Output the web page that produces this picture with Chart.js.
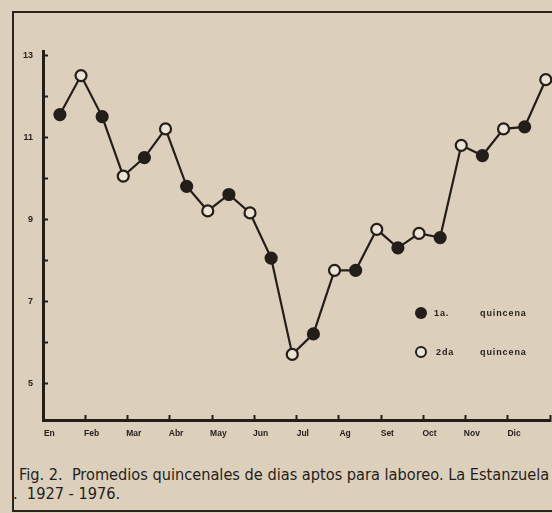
<!DOCTYPE html>
<html>
<head>
<meta charset="utf-8">
<script src="https://cdn.jsdelivr.net/npm/chart.js@4/dist/chart.umd.min.js"></script>
<style>
  html, body { margin: 0; padding: 0; background: #dccfbc; }
  #wrap { position: relative; width: 552px; height: 513px; overflow: hidden; background: #dccfbc;
          font-family: 'Liberation Sans', Arial, sans-serif; color: #241e1a; }
  #frame { position: absolute; left: 12px; top: 11px; width: 560px; height: 497px;
           border: 2px solid #2a2320; border-right: none; }
  #chartbox { position: absolute; left: 0; top: 0; width: 552px; height: 460px; }
  .dot { position: absolute; width: 12px; height: 12px; border-radius: 50%; box-sizing: border-box; }
  .dot.full { background: #241e1a; }
  .dot.open { background: #ece3d5; border: 2.5px solid #241e1a; }
  .lt { position: absolute; font-size: 9px; font-weight: bold; line-height: 10px; letter-spacing: .9px; }
  .cap { position: absolute; font-family: 'Liberation Sans Narrow', 'DejaVu Sans Condensed', sans-serif;
         font-size: 16.2px; line-height: 19px; white-space: nowrap; }
</style>
</head>
<body>
<div id="wrap">
  <div id="frame"></div>
  <div id="chartbox"><canvas id="chart-days"></canvas></div>

  <div class="dot full" style="left:415px; top:307px;"></div>
  <div class="lt" style="left:434px; top:308px;">1a.</div>
  <div class="lt" style="left:480px; top:308px;">quincena</div>
  <div class="dot open" style="left:415px; top:346px;"></div>
  <div class="lt" style="left:436px; top:347px;">2da</div>
  <div class="lt" style="left:480px; top:347px;">quincena</div>

  <div class="cap" style="left:19px; top:465px;">Fig. 2.&nbsp; Promedios quincenales de dias aptos para laboreo. La Estanzuela</div>
  <div class="cap" style="left:13px; top:484px;">.&nbsp; 1927 - 1976.</div>
</div>

<script>
// Promedio de días aptos para laboreo por quincena (1a y 2da de cada mes)
const MONTHS = ['En', 'Feb', 'Mar', 'Abr', 'May', 'Jun', 'Jul', 'Ag', 'Set', 'Oct', 'Nov', 'Dic'];
const DAYS = [
  11.55, 12.5,   // En
  11.5, 10.05,   // Feb
  10.5, 11.2,    // Mar
  9.8, 9.2,      // Abr
  9.6, 9.15,     // May
  8.05, 5.7,     // Jun
  6.2, 7.75,     // Jul
  7.75, 8.75,    // Ag
  8.3, 8.65,     // Set
  8.55, 10.8,    // Oct
  10.55, 11.2,   // Nov
  11.25, 12.4,   // Dic
];
const Y_TICKS = [5, 6, 7, 8, 9, 10, 11, 12, 13];
const Y_LABELS = [5, 7, 9, 11, 13];

const INK = '#241e1a';
const PAPER = '#ece3d5';
const POINT_SHIFT = 0.8;   // posición de cada quincena dentro de su medio mes
const LABEL_SHIFT = 0.3;   // etiquetas de mes algo corridas a la izquierda, como en el original

const points = DAYS.map((v, i) => ({ x: i + POINT_SHIFT, y: v }));
const isBoundary = v => Math.abs(v / 2 - Math.round(v / 2)) < 1e-6;

new Chart(document.getElementById('chart-days'), {
  type: 'line',
  data: {
    datasets: [{
      data: points,
      borderColor: INK,
      borderWidth: 2.2,
      tension: 0,
      clip: false,
      pointRadius: 5.5,
      pointHoverRadius: 5.5,
      pointBorderWidth: 2.2,
      pointBorderColor: INK,
      pointBackgroundColor: ctx => (ctx.dataIndex % 2 === 0 ? INK : PAPER),
    }],
  },
  options: {
    responsive: true,
    maintainAspectRatio: false,
    animation: false,
    events: [],
    layout: { autoPadding: false, padding: { top: 51, right: 2, left: 0, bottom: 0 } },
    plugins: { legend: { display: false }, tooltip: { enabled: false } },
    scales: {
      x: {
        type: 'linear', min: 0, max: 24,
        afterBuildTicks: s => {
          const t = [];
          MONTHS.forEach((m, i) => { t.push({ value: 2 * i + LABEL_SHIFT }); t.push({ value: 2 * i + 2 }); });
          s.ticks = t;
        },
        afterFit: s => { s.height = 40; s.paddingLeft = 0; s.paddingRight = 0; },
        border: { display: true, color: INK, width: 3 },
        grid: {
          drawOnChartArea: false, tickLength: -5, tickWidth: 2,
          tickColor: ctx => (ctx.tick && isBoundary(ctx.tick.value) ? INK : 'rgba(0,0,0,0)'),
        },
        ticks: {
          autoSkip: false, maxRotation: 0, padding: 14, color: INK,
          font: { family: "'Liberation Sans', Arial, sans-serif", size: 8.5, weight: 'bold' },
          callback: v => (isBoundary(v) ? '' : MONTHS[Math.round((v - LABEL_SHIFT) / 2)]),
        },
      },
      y: {
        min: 4.1, max: 13.1,
        afterBuildTicks: s => { s.ticks = Y_TICKS.map(v => ({ value: v })); },
        afterFit: s => { s.width = 43; },
        border: { display: true, color: INK, width: 3 },
        grid: { drawOnChartArea: false, tickLength: -5, tickWidth: 2, tickColor: INK },
        ticks: {
          padding: 15, color: INK,
          font: { family: "'Liberation Sans', Arial, sans-serif", size: 9, weight: 'bold' },
          callback: v => (Y_LABELS.includes(v) ? String(v) : ''),
        },
      },
    },
  },
});
</script>
</body>
</html>
